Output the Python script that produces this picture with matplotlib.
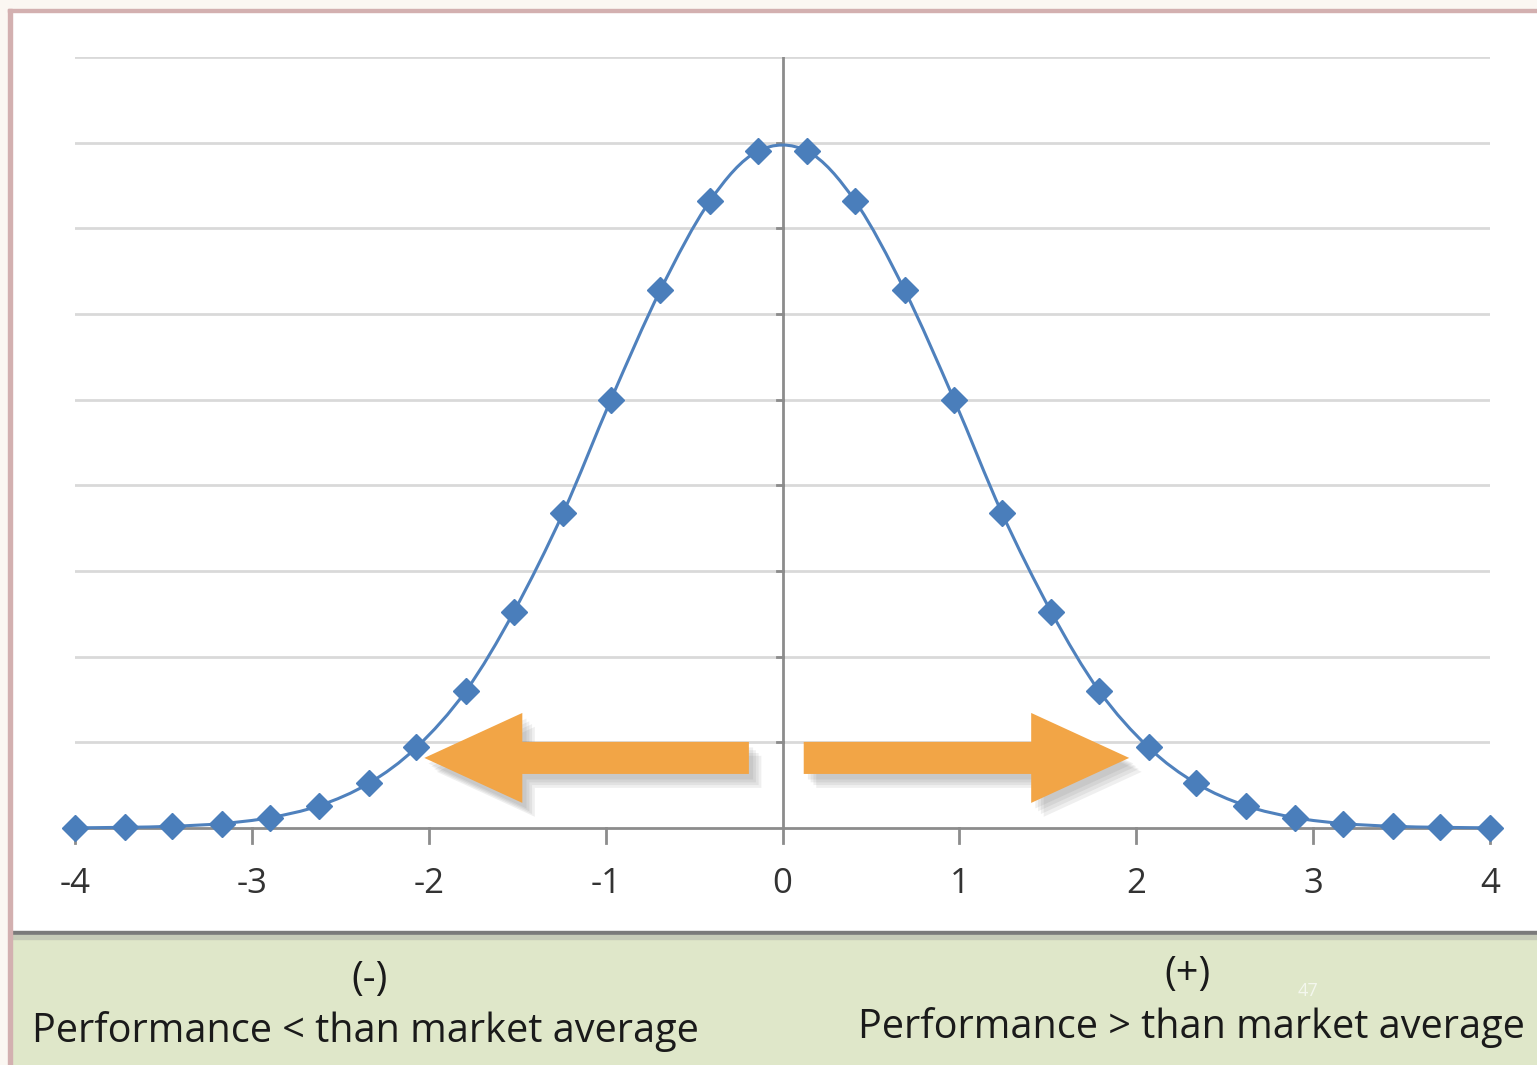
import matplotlib.pyplot as plt
import matplotlib.patheffects as pe
from matplotlib.patches import Rectangle, FancyArrow, PathPatch
from matplotlib.path import Path

# values (bell curve, 30 points from -4 to 4)
x_vals = [-4.00, -3.72, -3.45, -3.17, -2.90, -2.62, -2.34, -2.07, -1.79, -1.52,
          -1.24, -0.97, -0.69, -0.41, -0.14, 0.14, 0.41, 0.69, 0.97, 1.24,
          1.52, 1.79, 2.07, 2.34, 2.62, 2.90, 3.17, 3.45, 3.72, 4.00]
y_left = [0.0001, 0.0004, 0.0010, 0.0026, 0.0060, 0.0130, 0.0260, 0.0470,
          0.0800, 0.1260, 0.1840, 0.2500, 0.3140, 0.3660, 0.3950]
y_vals = y_left + y_left[::-1]

x_ticks = [-4, -3, -2, -1, 0, 1, 2, 3, 4]
grid_levels = [0.05, 0.10, 0.15, 0.20, 0.25, 0.30, 0.35, 0.40, 0.45]

label_neg = ["(-)", "Performance < than market average"]
label_pos = ["(+)", "Performance > than market average"]

W, H = 1537, 1065
fig = plt.figure(figsize=(W / 100, H / 100), dpi=100)
fig.patch.set_facecolor("white")

# frame bits (outer off-white strip, pink border, green band)
fig.add_artist(Rectangle((0, 1 - 9 / H), 1, 9 / H, transform=fig.transFigure,
                         color="#fbf7f2", zorder=0))
fig.add_artist(Rectangle((0, 0), 8 / W, 1, transform=fig.transFigure,
                         color="#fbf7f2", zorder=0))
fig.add_artist(Rectangle((8 / W, 0), 4 / W, 1 - 9 / H, transform=fig.transFigure,
                         color="#d3b0b0", zorder=3))
fig.add_artist(Rectangle((8 / W, 1 - 12 / H), 1, 3 / H, transform=fig.transFigure,
                         color="#d3b0b0", zorder=3))
fig.add_artist(Rectangle((12 / W, 0), 1, 130 / H, transform=fig.transFigure,
                         color="#dfe7c9", zorder=1))
fig.add_artist(Rectangle((12 / W, 130 / H), 1, 4 / H, transform=fig.transFigure,
                         color="#7a7a7a", zorder=2))
fig.add_artist(Rectangle((12 / W, 126 / H), 1, 4 / H, transform=fig.transFigure,
                         color="#c6cbb8", zorder=2))

ax = fig.add_axes([75 / W, (H - 828) / H, 1415 / W, 771 / H])
ax.set_xlim(-4, 4)
ax.set_ylim(0, 0.45)
ax.patch.set_alpha(0)
for s in ax.spines.values():
    s.set_visible(False)
ax.set_yticks([])
ax.set_xticks([])

for g in grid_levels:
    ax.axhline(g, color="#d9d9d9", lw=2, zorder=1)

# axes lines
ax.axhline(0, color="#8c8c8c", lw=2, zorder=2, clip_on=False)
ax.axvline(0, color="#8c8c8c", lw=2, zorder=2)
for g in grid_levels[:-1]:
    ax.plot([-0.03, 0], [g, g], color="#8c8c8c", lw=2, zorder=2)
for t in x_ticks:
    ax.plot([t, t], [0, -0.009], color="#8c8c8c", lw=2, zorder=2, clip_on=False)
    ax.text(t, -0.0325, str(t), ha="center", va="center",
            fontsize=25, color="#333333", family="Open Sans")

# smoothed line like Excel (catmull-rom through the points as bezier)
verts = [(x_vals[0], y_vals[0])]
codes = [Path.MOVETO]
n = len(x_vals)
for i in range(n - 1):
    p0 = (x_vals[max(i - 1, 0)], y_vals[max(i - 1, 0)])
    p1 = (x_vals[i], y_vals[i])
    p2 = (x_vals[i + 1], y_vals[i + 1])
    p3 = (x_vals[min(i + 2, n - 1)], y_vals[min(i + 2, n - 1)])
    c1 = (p1[0] + (p2[0] - p0[0]) / 6, p1[1] + (p2[1] - p0[1]) / 6)
    c2 = (p2[0] - (p3[0] - p1[0]) / 6, p2[1] - (p3[1] - p1[1]) / 6)
    verts += [c1, c2, p2]
    codes += [Path.CURVE4] * 3
ax.add_patch(PathPatch(Path(verts, codes), fill=False, edgecolor="#4f81bd",
                       lw=2.2, zorder=4, clip_on=False))

ax.plot(x_vals, y_vals, linestyle="none", marker="D", markersize=13,
        markerfacecolor="#4a7ebb", markeredgecolor="#4a7ebb", zorder=5,
        clip_on=False)

# orange arrows with soft shadow
shadow = [pe.SimplePatchShadow(offset=(o, -o - 1), shadow_rgbFace="#666666", alpha=0.10)
          for o in (3, 5, 7, 9)] + [pe.Normal()]
arrow_kw = dict(width=0.0187, head_width=0.0525, head_length=0.554,
                length_includes_head=True, color="#f2a546", lw=0, zorder=3)
a1 = FancyArrow(-0.19, 0.0409, -1.835, 0, **arrow_kw)
a2 = FancyArrow(0.12, 0.0409, 1.84, 0, **arrow_kw)
for a in (a1, a2):
    a.set_path_effects(shadow)
    ax.add_patch(a)

# bottom labels
txt_kw = dict(va="center", fontsize=28.5, color="#1a1a1a", family="Open Sans")
fig.text(370 / W, 1 - 980 / H, label_neg[0], ha="center", **txt_kw)
fig.text(32 / W, 1 - 1032 / H, label_neg[1], ha="left", **txt_kw)
fig.text(1187 / W, 1 - 975 / H, label_pos[0], ha="center", **txt_kw)
fig.text(1525 / W, 1 - 1028 / H, label_pos[1], ha="right", **txt_kw)
fig.text(1308 / W, 1 - 991 / H, "47", ha="center", va="center",
         fontsize=13, color="#f4f7ee", family="Open Sans")

fig.savefig("out.png", dpi=100)
